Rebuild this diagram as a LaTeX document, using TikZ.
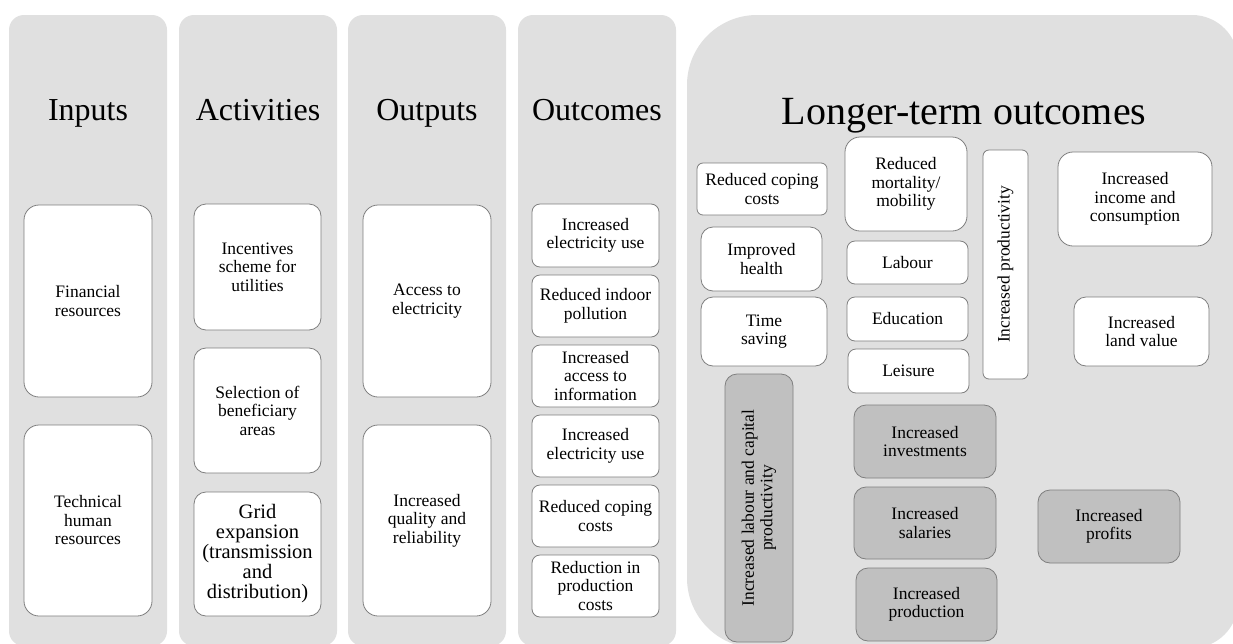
\documentclass[tikz,border=0pt]{standalone}
\usepackage{fontspec}
\setmainfont{Liberation Serif}
\definecolor{laneGray}{HTML}{E0E0E0}
\definecolor{cardGray}{HTML}{C0C0C0}
\definecolor{edgeGray}{HTML}{7F7F7F}
\begin{document}
\begin{tikzpicture}[x=1pt,y=-1pt,
  lane/.style={fill=laneGray, draw=none, rounded corners=15pt, inner sep=0pt},
  heading/.style={anchor=base, inner sep=0pt, font=\fontsize{32}{34}\selectfont},
  card/.style={draw=edgeGray, line width=0.8pt, fill=white, align=center,
    inner sep=0pt, rounded corners=12pt, font=\fontsize{17.5}{18.5}\selectfont},
  tight/.style={card, rounded corners=8pt},
  shaded/.style={card, fill=cardGray},
]
\useasboundingbox (0,0) rectangle (1233,643);
\fill[white] (0,0) rectangle (1233,643);
\clip (0,0) rectangle (1233,643);

% ---- lanes ----
\node[lane, minimum width=158pt, minimum height=631pt] (laneIn)  at (88,330.5)  {};
\node[lane, minimum width=158pt, minimum height=631pt] (laneAct) at (258,330.5) {};
\node[lane, minimum width=158pt, minimum height=631pt] (laneOut) at (427,330.5) {};
\node[lane, minimum width=158pt, minimum height=631pt] (laneOc)  at (597,330.5) {};
\fill[laneGray, rounded corners=70pt] (1000,648) -- (687,648) -- (687,15) -- (1000,15)
  [rounded corners=46pt] -- (1238,15) -- (1238,648) -- cycle;

% ---- headings ----
\node[heading] (hIn)  at (88,120)  {Inputs};
\node[heading] (hAct) at (258,120) {Activities};
\node[heading] (hOut) at (427,120) {Outputs};
\node[heading] (hOc)  at (597,120) {Outcomes};
\node[heading, font=\fontsize{40}{42}\selectfont] (hLong) at (964,124) {Longer-term outcomes};

% ---- inputs ----
\node[card, rounded corners=15pt, minimum width=128pt, minimum height=192pt] (fin) at (88,301) {Financial\\resources};
\node[card, rounded corners=15pt, minimum width=128pt, minimum height=191pt] (tech) at (88,520.5) {Technical\\human\\resources};

% ---- activities ----
\node[card, minimum width=127pt, minimum height=126pt] (incent) at (257.5,267) {Incentives\\scheme for\\utilities};
\node[card, minimum width=127pt, minimum height=125pt] (select) at (257.5,410.5) {Selection of\\beneficiary\\areas};
\node[card, minimum width=127pt, minimum height=124pt, font=\fontsize{20.5}{20}\selectfont] (grid) at (257.5,554) {Grid\\expansion\\(transmission\\and\\distribution)};

% ---- outputs ----
\node[card, rounded corners=15pt, minimum width=128pt, minimum height=192pt] (access) at (427,301) {Access to\\electricity};
\node[card, rounded corners=15pt, minimum width=128pt, minimum height=191pt] (quality) at (427,520.5) {Increased\\quality and\\reliability};

% ---- outcomes ----
\node[tight, minimum width=127pt, minimum height=63pt] (oc1) at (595.5,235.5) {Increased\\electricity use};
\node[tight, minimum width=127pt, minimum height=62pt] (oc2) at (595.5,306)   {Reduced indoor\\pollution};
\node[tight, minimum width=127pt, minimum height=62pt] (oc3) at (595.5,376)   {Increased\\access to\\information};
\node[tight, minimum width=127pt, minimum height=62pt] (oc4) at (595.5,446)   {Increased\\electricity use};
\node[tight, minimum width=127pt, minimum height=62pt] (oc5) at (595.5,516)   {Reduced coping\\costs};
\node[tight, minimum width=127pt, minimum height=62pt] (oc6) at (595.5,586)   {Reduction in\\production\\costs};

% ---- longer-term outcomes ----
\node[card, rounded corners=6pt, minimum width=130pt, minimum height=52pt] (lcope) at (762,189) {Reduced coping\\costs};
\node[card, rounded corners=15pt, minimum width=122pt, minimum height=94pt] (mort) at (906,184) {Reduced\\mortality/\\mobility};
\node[card, minimum width=121pt, minimum height=64pt] (health) at (761.5,259) {Improved\\health};
\node[card, minimum width=126pt, minimum height=69pt] (time) at (764,331.5) {Time\\saving};
\node[tight, minimum width=121pt, minimum height=43pt] (labour) at (907.5,262.5) {Labour};
\node[tight, minimum width=121pt, minimum height=44pt] (educ) at (907.5,319) {Education};
\node[tight, minimum width=121pt, minimum height=44pt] (leisure) at (908.5,371) {Leisure};
\node[card, rounded corners=6pt, rotate=90, minimum width=229pt, minimum height=45pt] (prod) at (1005.5,264.5) {Increased productivity};
\node[card, rounded corners=15pt, minimum width=154pt, minimum height=94pt] (income) at (1135,199) {Increased\\income and\\consumption};
\node[card, minimum width=135pt, minimum height=69pt] (land) at (1141.5,331.5) {Increased\\land value};
\node[shaded, rotate=90, minimum width=268pt, minimum height=68pt] (lcp) at (759,508) {Increased labour and capital\\productivity};
\node[shaded, minimum width=142pt, minimum height=73pt] (invest) at (925,441.5) {Increased\\investments};
\node[shaded, minimum width=142pt, minimum height=72pt] (salary) at (925,523) {Increased\\salaries};
\node[shaded, minimum width=141pt, minimum height=73pt] (output) at (926.5,604.5) {Increased\\production};
\node[shaded, minimum width=142pt, minimum height=73pt] (profit) at (1109,526.5) {Increased\\profits};
\end{tikzpicture}
\end{document}
